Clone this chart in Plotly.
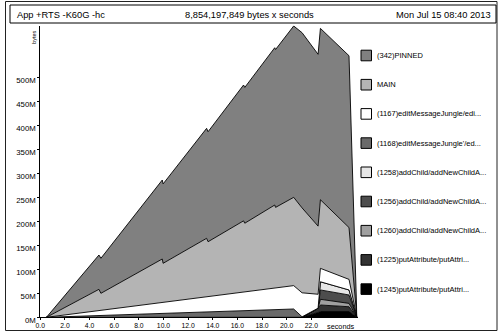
import plotly.graph_objects as go

W, H = 498, 333

# ---- data (values in MB, per sample, non-cumulative bands; stacked bottom -> top) ----
times = [0.5, 4.76, 4.92, 9.90, 9.97, 13.50, 13.62, 16.50, 16.60, 19.03, 19.10,
         20.57, 21.25, 22.55, 22.74, 25.06, 25.70]

band_names = [
    "(1245)putAttribute/putAttri...",
    "(1225)putAttribute/putAttri...",
    "(1260)addChild/addNewChildA...",
    "(1256)addChild/addNewChildA...",
    "(1258)addChild/addNewChildA...",
    "(1168)editMessageJungle'/ed...",
    "(1167)editMessageJungle/edi...",
    "MAIN",
    "(342)PINNED",
]
band_colors = ["#000000", "#333333", "#a0a0a0", "#4d4d4d", "#e6e6e6",
               "#6a6a6a", "#ffffff", "#b4b4b4", "#808080"]

v1245 = [0, 0, 0, 0, 0, 0, 0, 0, 0, 0, 0, 0, 0, 10, 12, 12, 0]
v1225 = [0, 0, 0, 0, 0, 0, 0, 0, 0, 0, 0, 0, 0, 9, 13.6, 10, 0]
v1260 = [0, 0, 0, 0, 0, 0, 0, 0, 0, 0, 0, 0, 0, 0, 11.9, 7, 0]
v1256 = [0, 0, 0, 0, 0, 0, 0, 0, 0, 0, 0, 0, 0, 0, 19.5, 17.5, 0]
v1258 = [0, 0, 0, 0, 0, 0, 0, 0, 0, 0, 0, 0, 0, 0, 17, 10.5, 0]
v1168 = [0, 3.7, 3.8, 8.1, 8.2, 11.2, 11.3, 13.8, 13.9, 16.0, 16.1, 17.3, 1, 0, 0, 0, 0]
v1167 = [0, 10.3, 10.7, 22.9, 22.8, 31.6, 31.7, 38.8, 39.1, 45.0, 45.1, 48.7, 50, 29, 28, 22, 0]
vMAIN = [0, 44.3, 35.5, 90.5, 81.5, 121.8, 114.5, 148.4, 143, 173, 167.8, 184, 177, 142, 143, 108, 0]
vPINNED = [0, 71.5, 73, 164.5, 165.5, 229.1, 229.2, 283, 283, 327.7, 329, 357, 365, 358, 357, 358, 0]

band_values = [v1245, v1225, v1260, v1256, v1258, v1168, v1167, vMAIN, vPINNED]

x_ticks = [0, 2, 4, 6, 8, 10, 12, 14, 16, 18, 20, 22]
x_ticktext = [f"{v:.1f}" for v in x_ticks]
y_ticks = [0, 50, 100, 150, 200, 250, 300, 350, 400, 450, 500]
y_ticktext = [f"{v}M" for v in y_ticks]

title_left = "App +RTS -K60G -hc"
title_mid = "8,854,197,849 bytes x seconds"
title_right = "Mon Jul 15 08:40 2013"

# ---- layout geometry (pixels) ----
PX_L, PX_R = 40.3, 357.5
PY_B, PY_T = 317.3, 25.5
FONT = "Liberation Sans"

fig = go.Figure()
for name, col, vals in zip(band_names, band_colors, band_values):
    fig.add_trace(go.Scatter(
        x=times, y=vals, name=name, mode="lines", stackgroup="one",
        line=dict(color="#000000", width=0.9), fillcolor=col,
        showlegend=False, hoverinfo="skip"))

# invisible overlay in pixel coordinates for frame, title, legend
fig.add_trace(go.Scatter(x=[0], y=[0], xaxis="x2", yaxis="y2", mode="markers",
                         marker=dict(opacity=0), showlegend=False, hoverinfo="skip"))

shapes = []
annotations = []
# outer frame and title box
shapes.append(dict(type="rect", xref="x2", yref="y2", x0=5.5, x1=497, y0=1.5, y1=330.5,
                   line=dict(color="#222222", width=1)))
shapes.append(dict(type="rect", xref="x2", yref="y2", x0=10, x1=496, y0=5, y1=23,
                   line=dict(color="#000000", width=1), fillcolor="white"))
annotations.append(dict(xref="x2", yref="y2", x=15, y=14.5, text=title_left, showarrow=False,
                        xanchor="left", yanchor="middle", font=dict(family=FONT, size=9.3, color="#000")))
annotations.append(dict(xref="x2", yref="y2", x=249, y=14.5, text=title_mid, showarrow=False,
                        xanchor="center", yanchor="middle", font=dict(family=FONT, size=9.3, color="#000")))
annotations.append(dict(xref="x2", yref="y2", x=492.5, y=14.5, text=title_right, showarrow=False,
                        xanchor="right", yanchor="middle", font=dict(family=FONT, size=9.3, color="#000")))
# axis captions
annotations.append(dict(xref="x2", yref="y2", x=33.3, y=37.5, text="bytes", showarrow=False,
                        textangle=-90, xanchor="center", yanchor="middle",
                        font=dict(family=FONT, size=5.5, color="#000")))
annotations.append(dict(xref="x2", yref="y2", x=357, y=326, text="seconds", showarrow=False,
                        xanchor="right", yanchor="middle",
                        font=dict(family=FONT, size=7.3, color="#000")))
# legend (top of stack first)
for i, (name, col) in enumerate(zip(band_names[::-1], band_colors[::-1])):
    cy = 55.5 + 29.2 * i
    shapes.append(dict(type="rect", xref="x2", yref="y2", x0=361, x1=371.5,
                       y0=cy - 5.3, y1=cy + 5.3, fillcolor=col,
                       line=dict(color="#000000", width=1)))
    annotations.append(dict(xref="x2", yref="y2", x=375, y=cy, text=name, showarrow=False,
                            xanchor="left", yanchor="middle",
                            font=dict(family=FONT, size=7.5, color="#000")))

fig.update_layout(
    width=W, height=H,
    margin=dict(l=0, r=0, t=0, b=0, pad=0),
    paper_bgcolor="white", plot_bgcolor="rgba(0,0,0,0)",
    showlegend=False,
    font=dict(family=FONT, color="#000"),
    xaxis=dict(domain=[PX_L / W, PX_R / W], range=[0, 25.75], showgrid=False, zeroline=False,
               showline=True, linecolor="#000", linewidth=1, ticks="outside", ticklen=2,
               tickcolor="#000", tickvals=x_ticks, ticktext=x_ticktext,
               tickfont=dict(family=FONT, size=6.8, color="#000"), automargin=False,
               fixedrange=True),
    yaxis=dict(domain=[(H - PY_B) / H, (H - PY_T) / H], range=[0, 608], showgrid=False,
               zeroline=False, showline=True, linecolor="#000", linewidth=1, ticks="outside",
               ticklen=2, tickcolor="#000", tickvals=y_ticks, ticktext=y_ticktext,
               tickfont=dict(family=FONT, size=7.8, color="#000"), automargin=False,
               ticklabelshift=3, ticklabelstandoff=0, fixedrange=True),
    xaxis2=dict(domain=[0, 1], range=[0, W], visible=False, anchor="y2",
                fixedrange=True),
    yaxis2=dict(domain=[0, 1], range=[H, 0], visible=False, anchor="x2", fixedrange=True),
    shapes=shapes, annotations=annotations,
)

fig.write_html("out.html")
